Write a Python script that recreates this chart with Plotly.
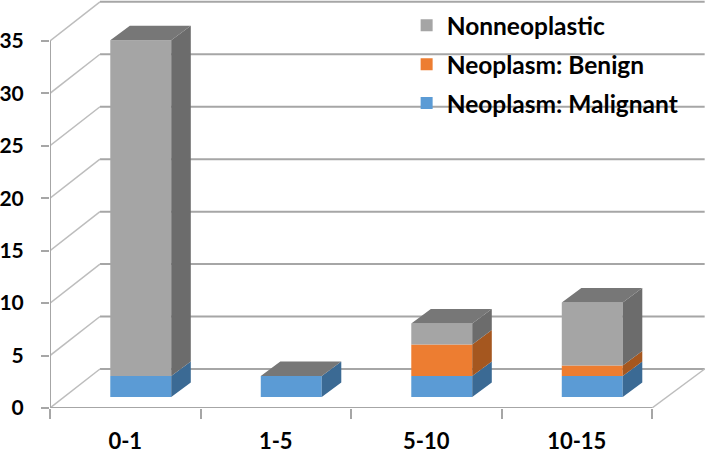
import plotly.graph_objects as go

categories = ["0-1", "1-5", "5-10", "10-15"]
malignant = [2, 2, 2, 2]
benign = [0, 0, 3, 1]
nonneoplastic = [32, 0, 2, 6]
y_ticks = [0, 5, 10, 15, 20, 25, 30, 35]

# depth projection, in axis units
WALL_DX, WALL_DY = 0.332, 3.72
BAR_SHIFT_X, BAR_SHIFT_Y = 0.103, 1.05
BAR_WIDTH = 0.405
BAR_DX, BAR_DY = 0.13, 1.38
RIGHT_END = 4.35

series = [
    ("Neoplasm: Malignant", malignant, "#5b9bd5", "#3b6a94", 3),
    ("Neoplasm: Benign", benign, "#ed7d31", "#a5571f", 2),
    ("Nonneoplastic", nonneoplastic, "#a5a5a5", "#6c6c6c", 1),
]
TOP_COLOR = "#777777"
GRID = "#a6a6a6"
SLANT = "#bdbdbd"
FONT = "Lato, 'Open Sans', sans-serif"

fig = go.Figure()

# back wall gridlines and their slanted connectors (lower subplot)
bx, by, sx, sy = [], [], [], []
for v in y_ticks:
    bx += [WALL_DX, RIGHT_END, None]
    by += [v + WALL_DY, v + WALL_DY, None]
    sx += [0, WALL_DX, None]
    sy += [v, v + WALL_DY, None]
sx += [4, RIGHT_END, None]
sy += [0, WALL_DY, None]
fig.add_trace(go.Scatter(x=bx, y=by, mode="lines", line=dict(color=GRID, width=2),
                         showlegend=False, hoverinfo="skip", cliponaxis=False))
fig.add_trace(go.Scatter(x=sx, y=sy, mode="lines", line=dict(color=SLANT, width=1.5),
                         showlegend=False, hoverinfo="skip", cliponaxis=False))
# axis lines, stopping at the last tick
fig.add_trace(go.Scatter(x=[0, 0, len(categories)], y=[y_ticks[-1], 0, 0], mode="lines",
                         line=dict(color=GRID, width=2), showlegend=False,
                         hoverinfo="skip", cliponaxis=False))

# bars on the overlaid subplot so they sit above the grid
positions = [i + 0.5 + BAR_SHIFT_X for i in range(len(categories))]
cum = [BAR_SHIFT_Y] * len(categories)
for name, vals, front, side, rank in series:
    fig.add_trace(go.Bar(x=positions, y=vals, base=list(cum), width=BAR_WIDTH, name=name,
                         marker=dict(color=front, line=dict(width=0)), legendgroup=name,
                         legendrank=rank, xaxis="x2", yaxis="y2"))
    px_, py_ = [], []
    for p, v, b in zip(positions, vals, cum):
        if v == 0:
            continue
        r = p + BAR_WIDTH / 2
        px_ += [r, r + BAR_DX, r + BAR_DX, r, r, None]
        py_ += [b, b + BAR_DY, b + v + BAR_DY, b + v, b, None]
    fig.add_trace(go.Scatter(x=px_, y=py_, mode="lines", fill="toself", fillcolor=side,
                             line=dict(width=0, color=side), showlegend=False, hoverinfo="skip",
                             xaxis="x2", yaxis="y2"))
    cum = [c + v for c, v in zip(cum, vals)]

# top faces
tx, ty = [], []
for p, t in zip(positions, cum):
    l, r = p - BAR_WIDTH / 2, p + BAR_WIDTH / 2
    tx += [l, r, r + BAR_DX, l + BAR_DX, l, None]
    ty += [t, t, t + BAR_DY, t + BAR_DY, t, None]
fig.add_trace(go.Scatter(x=tx, y=ty, mode="lines", fill="toself", fillcolor=TOP_COLOR,
                         line=dict(width=0, color=TOP_COLOR), showlegend=False, hoverinfo="skip",
                         xaxis="x2", yaxis="y2"))

xr = [0, 658 / 150.5]
yr = [0, 408 / 10.49]
fig.update_layout(
    width=708, height=455,
    margin=dict(l=50, r=0, t=0, b=47, autoexpand=False),
    paper_bgcolor="white", plot_bgcolor="white",
    barmode="overlay",
    font=dict(family=FONT, color="#000000"),
    xaxis=dict(range=xr, tickmode="array", tickvals=[i + 0.5 for i in range(len(categories))],
               ticktext=categories, ticks="", showgrid=False, zeroline=False, automargin=False,
               showline=False,
               tickfont=dict(family=FONT, size=22, weight="bold", color="#000"),
               ticklabelstandoff=18,
               minor=dict(tickmode="array", tickvals=list(range(len(categories) + 1)),
                          ticks="outside", ticklen=10, tickwidth=2, tickcolor=GRID, showgrid=False)),
    yaxis=dict(range=yr, tickmode="array", tickvals=y_ticks, ticks="outside", ticklen=8,
               tickwidth=2, tickcolor=GRID, showgrid=False, zeroline=False, automargin=False,
               showline=False,
               tickfont=dict(family=FONT, size=21, weight="bold", color="#000"),
               ticklabelstandoff=13),
    xaxis2=dict(range=xr, overlaying="x", visible=False),
    yaxis2=dict(range=yr, overlaying="y", visible=False),
    legend=dict(x=0.542, y=0.993, xanchor="left", yanchor="top",
                traceorder="grouped", tracegroupgap=4,
                bgcolor="rgba(0,0,0,0)", borderwidth=0,
                font=dict(family=FONT, size=24.5, weight="bold", color="#000")),
)
fig.write_html("out.html", config={"displayModeBar": False},
               post_script="document.body.style.margin='0';document.body.style.overflow='hidden';")
